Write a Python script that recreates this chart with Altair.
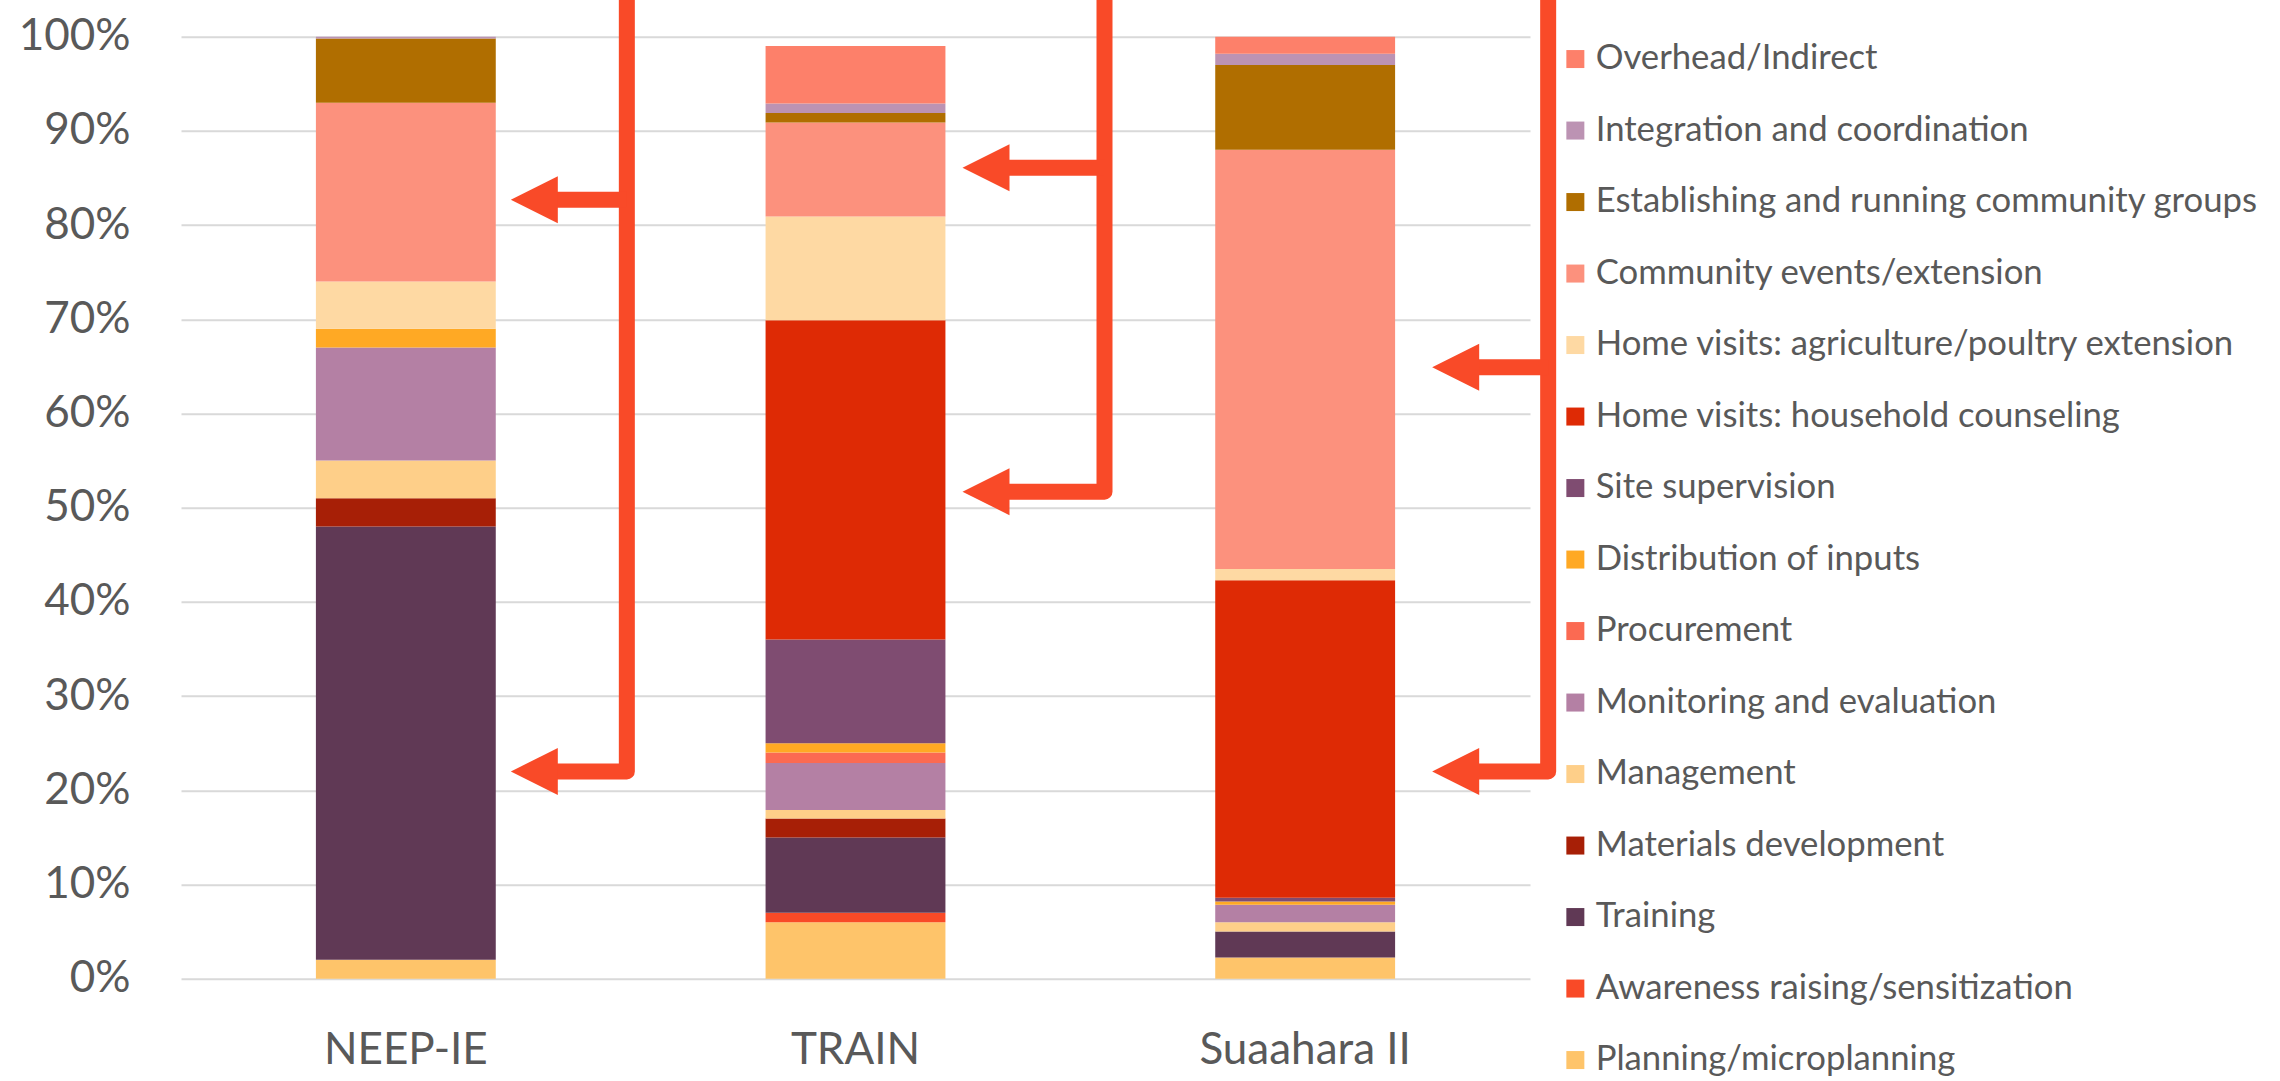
import altair as alt
import pandas as pd

# ---------------- data ----------------
programs = ["NEEP-IE", "TRAIN", "Suaahara II"]

# stack order, bottom -> top
activities = [
    "Planning/microplanning",
    "Awareness raising/sensitization",
    "Training",
    "Materials development",
    "Management",
    "Monitoring and evaluation",
    "Procurement",
    "Distribution of inputs",
    "Site supervision",
    "Home visits: household counseling",
    "Home visits: agriculture/poultry extension",
    "Community events/extension",
    "Establishing and running community groups",
    "Integration and coordination",
    "Overhead/Indirect",
]
activity_colors = [
    "#FEC46A",
    "#F94A27",
    "#603955",
    "#A71F06",
    "#FECF89",
    "#B480A4",
    "#FB6A52",
    "#FFA924",
    "#7F4C71",
    "#DE2A05",
    "#FED9A3",
    "#FC917D",
    "#B06E00",
    "#BC93B3",
    "#FD806A",
]

# percent of total cost, same order as activities
neep_ie = [2.0, 0, 46.0, 3.0, 4.0, 12.0, 0, 2.0, 0, 0, 5.0, 19.0, 6.8, 0.2, 0]
train = [6.0, 1.0, 8.0, 2.0, 0.9, 5.0, 1.1, 1.0, 11.0, 33.9, 11.0, 10.0, 1.0, 1.0, 6.1]
suaahara_ii = [2.25, 0, 2.75, 0, 1.0, 1.85, 0, 0.35, 0.4, 33.7, 1.2, 44.5, 9.0, 1.2, 1.8]

# annotation arrows: which bar and which level (percent) they point at
arrow_program = ["NEEP-IE", "NEEP-IE", "TRAIN", "TRAIN", "Suaahara II", "Suaahara II"]
arrow_pct = [82.7, 22.0, 86.1, 51.7, 64.9, 22.0]

y_ticks = [i / 10 for i in range(11)]

# ---------------- styling / layout ----------------
FONT = "Lato"
TXT = "#595959"
GRID = "#D9D9D9"
ARROW = "#F94A28"
W, H = 1349, 942
PAD_L, PAD_T = 181, 36.7
STEP = W / 3
spine_off_px = {"NEEP-IE": 221, "TRAIN": 249, "Suaahara II": 243}
tip_off_px = {"NEEP-IE": 105, "TRAIN": 107, "Suaahara II": 127}
HEAD = 47  # arrow head size in px
TOP_Y = 1.045  # spine runs off the top of the page

# ---------------- tables ----------------
rows = []
for prog, vals in zip(programs, [neep_ie, train, suaahara_ii]):
    for k, (act, v) in enumerate(zip(activities, vals)):
        if v > 0:
            rows.append({"program": prog, "activity": act, "share": v / 100, "k": k})
bars_df = pd.DataFrame(rows)

line_rows, head_rows = [], []
seg = 0
for i, prog in enumerate(programs):
    center = i + 0.5
    sx = center + spine_off_px[prog] / STEP
    hx = center + (tip_off_px[prog] + HEAD / 2) / STEP
    pcts = sorted([p for a, p in zip(arrow_program, arrow_pct) if a == prog])
    low = pcts[0] / 100
    pts = [(hx, low), (sx, low), (sx, TOP_Y)]
    for o, (x, y) in enumerate(pts):
        line_rows.append({"seg": seg, "o": o, "x": x, "share": y})
    seg += 1
    for p in pcts[1:]:
        for o, x in enumerate([hx, sx]):
            line_rows.append({"seg": seg, "o": o, "x": x, "share": p / 100})
        seg += 1
    for p in pcts:
        head_rows.append({"x": hx, "share": p / 100})
lines_df = pd.DataFrame(line_rows)
heads_df = pd.DataFrame(head_rows)

legend_order = activities[::-1]
legend_colors = activity_colors[::-1]

y_axis = alt.Axis(
    title=None, values=y_ticks, format=".0%", labelFont=FONT,
    labelFontSize=44, labelColor=TXT, labelPadding=51, ticks=False,
    domain=False, grid=True, gridColor=GRID, gridWidth=2,
)
y_scale = alt.Scale(domain=[0, 1], nice=False)

bars = alt.Chart(bars_df).mark_bar().encode(
    x=alt.X(
        "program:N",
        sort=programs,
        scale=alt.Scale(paddingInner=0.6, paddingOuter=0.3),
        axis=alt.Axis(
            title=None, labelAngle=0, labelFont=FONT, labelFontSize=44,
            labelColor=TXT, labelPadding=50, labelLimit=500, ticks=False,
            domain=False, grid=False,
        ),
    ),
    y=alt.Y("share:Q", stack="zero", scale=y_scale, axis=y_axis),
    color=alt.Color(
        "activity:N",
        scale=alt.Scale(domain=legend_order, range=legend_colors),
        legend=alt.Legend(
            title=None, orient="none", legendX=1377, legendY=5,
            symbolType="square", symbolSize=324, symbolStrokeWidth=0,
            labelFont=FONT, labelFontSize=34.7, labelColor=TXT, labelOffset=3,
            rowPadding=35.5, padding=0, labelLimit=1200,
        ),
    ),
    order=alt.Order("k:Q", sort="ascending"),
)

xq = alt.X("x:Q", scale=alt.Scale(domain=[0, 3], nice=False, zero=False), axis=None)
yq = alt.Y("share:Q", scale=y_scale, axis=y_axis)

shafts = alt.Chart(lines_df).mark_line(
    color=ARROW, strokeWidth=16, strokeJoin="round", strokeCap="butt"
).encode(x=xq, y=yq, detail="seg:N", order="o:Q")

heads = alt.Chart(heads_df).mark_point(
    shape="M -1 0 L 1 -1 L 1 1 Z", filled=True, size=HEAD * HEAD,
    color=ARROW, opacity=1, strokeWidth=0,
).encode(x=xq, y=yq)

chart = (
    alt.layer(bars, shafts, heads)
    .resolve_scale(x="independent")
    .properties(
        width=W, height=H,
        autosize=alt.AutoSizeParams(type="none"),
        padding={"left": PAD_L, "top": PAD_T, "right": 2280 - PAD_L - W, "bottom": 1081 - PAD_T - H},
        background="white",
    )
    .configure_view(stroke=None)
)

chart.save("out.html", embed_options={"renderer": "svg", "actions": False})
